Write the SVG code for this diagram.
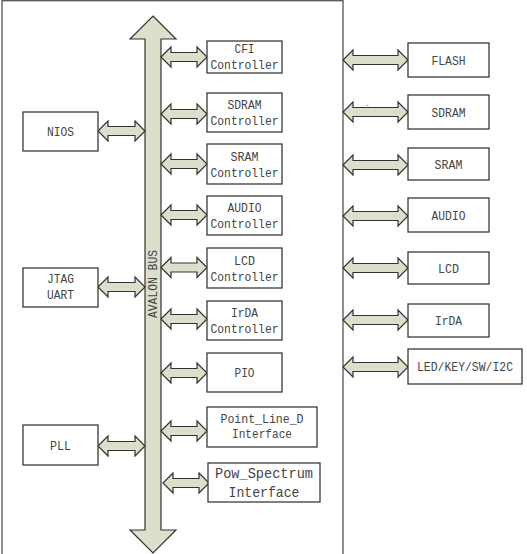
<svg xmlns="http://www.w3.org/2000/svg" width="527" height="554" viewBox="0 0 527 554">
<style>
.box{fill:#fff;stroke:#3a3a3a;stroke-width:1.3}
.frame{fill:#fff;stroke:#555;stroke-width:1.3}
.arr{fill:#dcdfcb;stroke:#333;stroke-width:1.2;stroke-linejoin:miter}
.t{font-family:"Liberation Mono","DejaVu Sans Mono",monospace;font-size:13px;fill:#444;text-anchor:middle}
.tb{font-size:15px}
</style>
<rect class="frame" x="2" y="0.7" width="341" height="570"/>

<g id="connectors">
  <polygon id="bus" class="arr" points="153,16 176,39 161,39 161,530 176,530 153,553 130,530 145,530 145,39 130,39"/>
  <text class="t" x="157" y="284" transform="rotate(-90 157 284)" textLength="68" lengthAdjust="spacingAndGlyphs">AVALON BUS</text>
  <!-- left arrows -->
  <polygon class="arr" points="98,131 108,121 108,126.5 135,126.5 135,121 145,131 135,141 135,135.5 108,135.5 108,141"/>
  <polygon class="arr" points="98,287 108,277 108,282.5 135,282.5 135,277 145,287 135,297 135,291.5 108,291.5 108,297"/>
  <polygon class="arr" points="98,446 108,436 108,441.5 135,441.5 135,436 145,446 135,456 135,450.5 108,450.5 108,456"/>
  <!-- bus to controllers -->
  <polygon class="arr" points="161,57 171,47 171,52.5 197,52.5 197,47 207,57 197,67 197,61.5 171,61.5 171,67"/>
  <polygon class="arr" points="161,114 171,104 171,109.5 197,109.5 197,104 207,114 197,124 197,118.5 171,118.5 171,124"/>
  <polygon class="arr" points="161,164 171,154 171,159.5 197,159.5 197,154 207,164 197,174 197,168.5 171,168.5 171,174"/>
  <polygon class="arr" points="161,215 171,205 171,210.5 197,210.5 197,205 207,215 197,225 197,219.5 171,219.5 171,225"/>
  <polygon class="arr" points="161,267.5 171,257.5 171,263 197,263 197,257.5 207,267.5 197,277.5 197,272 171,272 171,277.5"/>
  <polygon class="arr" points="161,319 171,309 171,314.5 197,314.5 197,309 207,319 197,329 197,323.5 171,323.5 171,329"/>
  <polygon class="arr" points="161,373 171,363 171,368.5 197,368.5 197,363 207,373 197,383 197,377.5 171,377.5 171,383"/>
  <polygon class="arr" points="161,431 171,421 171,426.5 197,426.5 197,421 207,431 197,441 197,435.5 171,435.5 171,441"/>
  <polygon class="arr" points="163,483 173,473 173,478.5 199,478.5 199,473 209,483 199,493 199,487.5 173,487.5 173,493"/>
  <!-- frame to external devices -->
  <polygon class="arr" points="343,60 353,50 353,55.5 398,55.5 398,50 408,60 398,70 398,64.5 353,64.5 353,70"/>
  <polygon class="arr" points="343,112 353,102 353,107.5 398,107.5 398,102 408,112 398,122 398,116.5 353,116.5 353,122"/>
  <polygon class="arr" points="343,165 353,155 353,160.5 398,160.5 398,155 408,165 398,175 398,169.5 353,169.5 353,175"/>
  <polygon class="arr" points="343,216 353,206 353,211.5 398,211.5 398,206 408,216 398,226 398,220.5 353,220.5 353,226"/>
  <polygon class="arr" points="343,268 353,258 353,263.5 398,263.5 398,258 408,268 398,278 398,272.5 353,272.5 353,278"/>
  <polygon class="arr" points="343,320 353,310 353,315.5 398,315.5 398,310 408,320 398,330 398,324.5 353,324.5 353,330"/>
  <polygon class="arr" points="343,367 353,357 353,362.5 398,362.5 398,357 408,367 398,377 398,371.5 353,371.5 353,377"/>
  <text x="367.5" y="107" style="font-family:'Liberation Sans',sans-serif;font-size:7px;fill:#555;text-anchor:middle">-</text>
</g>

<g id="nios"><rect class="box" x="23" y="112" width="75" height="39"/><text class="t" x="60.5" y="135.5" textLength="27" lengthAdjust="spacingAndGlyphs">NIOS</text></g>
<g id="jtag"><rect class="box" x="23" y="268" width="75" height="39"/><text class="t" x="60.5" y="283" textLength="27" lengthAdjust="spacingAndGlyphs">JTAG</text><text class="t" x="60.5" y="299" textLength="27" lengthAdjust="spacingAndGlyphs">UART</text></g>
<g id="pll"><rect class="box" x="23" y="425" width="75" height="40"/><text class="t" x="60.5" y="449.5" textLength="21" lengthAdjust="spacingAndGlyphs">PLL</text></g>

<g id="cfi"><rect class="box" x="207" y="41" width="75" height="32"/><text class="t" x="244.5" y="53" textLength="20" lengthAdjust="spacingAndGlyphs">CFI</text><text class="t" x="244.5" y="69" textLength="68" lengthAdjust="spacingAndGlyphs">Controller</text></g>
<g id="sdramc"><rect class="box" x="207" y="93" width="75" height="39"/><text class="t" x="244.5" y="108.5" textLength="34" lengthAdjust="spacingAndGlyphs">SDRAM</text><text class="t" x="244.5" y="124.5" textLength="68" lengthAdjust="spacingAndGlyphs">Controller</text></g>
<g id="sramc"><rect class="box" x="207" y="144" width="75" height="40"/><text class="t" x="244.5" y="160.5" textLength="28" lengthAdjust="spacingAndGlyphs">SRAM</text><text class="t" x="244.5" y="176.5" textLength="68" lengthAdjust="spacingAndGlyphs">Controller</text></g>
<g id="audioc"><rect class="box" x="207" y="196" width="75" height="39"/><text class="t" x="244.5" y="212" textLength="34" lengthAdjust="spacingAndGlyphs">AUDIO</text><text class="t" x="244.5" y="228" textLength="68" lengthAdjust="spacingAndGlyphs">Controller</text></g>
<g id="lcdc"><rect class="box" x="207" y="248" width="75" height="40"/><text class="t" x="244.5" y="264.5" textLength="21" lengthAdjust="spacingAndGlyphs">LCD</text><text class="t" x="244.5" y="280.5" textLength="68" lengthAdjust="spacingAndGlyphs">Controller</text></g>
<g id="irdac"><rect class="box" x="207" y="301" width="75" height="39"/><text class="t" x="244.5" y="317" textLength="27" lengthAdjust="spacingAndGlyphs">IrDA</text><text class="t" x="244.5" y="333" textLength="68" lengthAdjust="spacingAndGlyphs">Controller</text></g>
<g id="pio"><rect class="box" x="207" y="353" width="75" height="39"/><text class="t" x="244.5" y="377" textLength="20" lengthAdjust="spacingAndGlyphs">PIO</text></g>
<g id="pointline"><rect class="box" x="207" y="407" width="110" height="40"/><text class="t" x="262" y="423" textLength="83" lengthAdjust="spacingAndGlyphs">Point_Line_D</text><text class="t" x="262" y="438" textLength="60" lengthAdjust="spacingAndGlyphs">Interface</text></g>
<g id="powspec"><rect class="box" x="208" y="463" width="112" height="39"/><text class="t tb" x="264" y="478" textLength="98" lengthAdjust="spacingAndGlyphs">Pow_Spectrum</text><text class="t tb" x="264" y="497" textLength="71" lengthAdjust="spacingAndGlyphs">Interface</text></g>

<g id="flash"><rect class="box" x="408" y="43" width="81" height="34"/><text class="t" x="448.5" y="64.5" textLength="34" lengthAdjust="spacingAndGlyphs">FLASH</text></g>
<g id="sdram"><rect class="box" x="408" y="95" width="81" height="34"/><text class="t" x="448.5" y="116.5" textLength="34" lengthAdjust="spacingAndGlyphs">SDRAM</text></g>
<g id="sram"><rect class="box" x="408" y="148" width="81" height="32"/><text class="t" x="448.5" y="168.5" textLength="28" lengthAdjust="spacingAndGlyphs">SRAM</text></g>
<g id="audio"><rect class="box" x="408" y="198" width="81" height="34"/><text class="t" x="448.5" y="219.5" textLength="34" lengthAdjust="spacingAndGlyphs">AUDIO</text></g>
<g id="lcd"><rect class="box" x="408" y="252" width="81" height="32"/><text class="t" x="448.5" y="272.5" textLength="21" lengthAdjust="spacingAndGlyphs">LCD</text></g>
<g id="irda"><rect class="box" x="408" y="304" width="81" height="33"/><text class="t" x="448.5" y="325" textLength="27" lengthAdjust="spacingAndGlyphs">IrDA</text></g>
<g id="ledkey"><rect class="box" x="408" y="349" width="114" height="35"/><text class="t" x="465" y="371" textLength="96" lengthAdjust="spacingAndGlyphs">LED/KEY/SW/I2C</text></g>
</svg>
